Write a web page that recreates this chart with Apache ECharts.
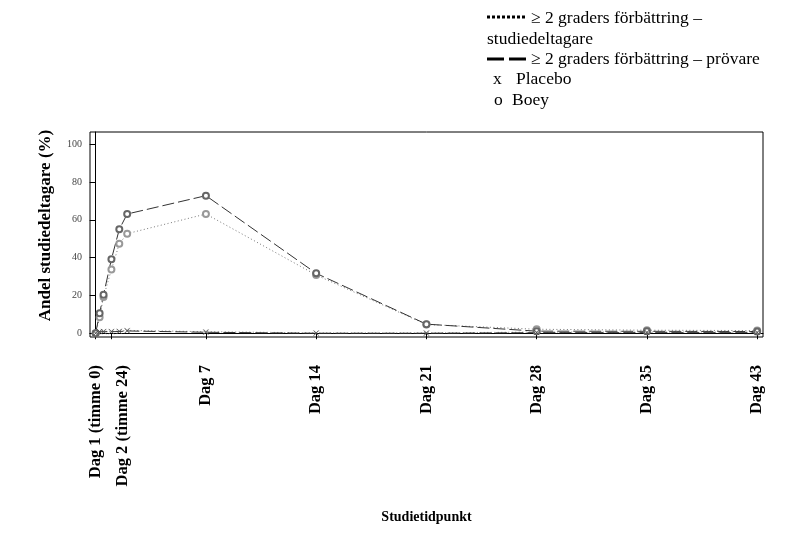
<!DOCTYPE html>
<html>
<head>
    <meta charset="utf-8">
    <title>Andel studiedeltagare</title>
    <script src="https://cdn.jsdelivr.net/npm/echarts@6/dist/echarts.min.js"></script>
    <style>
        html, body, #main {
            width: 100%;
            height: 100%;
            margin: 0;
            background: #fff;
        }
    </style>
</head>
<body>
    <div id="main"></div>
    <script type="text/javascript">
        // dagar sedan start (dag 1 timme 0 = 0)
        var days = [0, 0.25, 0.5, 1, 1.5, 2, 7, 14, 21, 28, 35, 42];
        var tickDays = [0, 1, 7, 14, 21, 28, 35, 42];
        var tickLabels = ['Dag 1 (timme 0)', 'Dag 2 (timme 24)', 'Dag 7', 'Dag 14', 'Dag 21', 'Dag 28', 'Dag 35', 'Dag 43'];
        var yTicks = [0, 20, 40, 60, 80, 100];

        var boeyStudie = [0, 8.4, 19.2, 33.7, 47.3, 52.7, 63.1, 30.8, 4.6, 2.1, 1.6, 1.4];
        var boeyProv = [0, 10.6, 20.3, 39.2, 55.0, 63.1, 72.8, 31.7, 4.8, 1.1, 1.0, 0.9];
        var placeboStudie = [0, 0.9, 1.0, 1.0, 1.1, 1.5, 0.8, 0.2, 0.2, 0.6, 0.6, 0.6];
        var placeboProv = [0, 0.8, 0.8, 0.8, 0.9, 1.2, 0.5, 0, 0, 0.3, 0.3, 0.3];

        var serif = '"Liberation Serif", "DejaVu Serif", serif';
        var xMark = 'path://M0,0L10,10M0,10L10,0';
        var xMin = -0.36, xMax = 42.37;

        function pairs(vals) {
            return vals.map(function (v, i) { return [days[i], v]; });
        }
        function tickLabel(v) {
            for (var i = 0; i < tickDays.length; i++) {
                if (Math.abs(tickDays[i] - v) < 1e-6) return tickLabels[i];
            }
            return '';
        }
        // Dag 2 ligger så nära Dag 1 att etiketten får en egen (något förskjuten) axel
        var mainTicks = tickDays.filter(function (d) { return d !== 1; });
        var nearTicks = [1];
        var nearShift = 0.7;

        function makeXAxis(ticks, isMain) {
            var shift = isMain ? 0 : nearShift;
            return {
                type: 'value',
                position: 'bottom',
                min: xMin - shift, max: xMax - shift,
                name: isMain ? 'Studietidpunkt' : '',
                nameLocation: 'middle',
                nameGap: 173,
                nameTextStyle: { fontFamily: serif, fontWeight: 'bold', fontSize: 14, color: '#000' },
                axisLine: { show: isMain, lineStyle: { color: '#000', width: 1 } },
                splitLine: { show: false },
                axisTick: { show: isMain, customValues: tickDays, length: 6, lineStyle: { color: '#000' } },
                axisLabel: {
                    customValues: ticks,
                    rotate: 90,
                    margin: 28,
                    hideOverlap: false,
                    showMinLabel: true,
                    showMaxLabel: true,
                    fontFamily: serif, fontWeight: 'bold', fontSize: 16.5, color: '#000',
                    formatter: tickLabel
                }
            };
        }

        var myChart = echarts.init(document.getElementById('main'));
        var option = {
            animation: false,
            backgroundColor: '#fff',
            grid: {
                left: 90, right: 47, top: 132, bottom: 200,
                show: true, borderColor: '#000', borderWidth: 1
            },
            xAxis: [makeXAxis(mainTicks, true), makeXAxis(nearTicks, false)],
            yAxis: {
                type: 'value',
                min: -2, max: 106.5,
                name: 'Andel studiedeltagare (%)',
                nameLocation: 'middle',
                nameGap: 36,
                nameTextStyle: { fontFamily: serif, fontWeight: 'bold', fontSize: 17, color: '#000', padding: [0, 0, 0, 18] },
                axisLine: { show: true, lineStyle: { color: '#000', width: 1 } },
                splitLine: { show: false },
                axisTick: { show: true, customValues: yTicks, length: 6, lineStyle: { color: '#000' } },
                axisLabel: { customValues: yTicks, margin: 8, fontFamily: serif, fontSize: 10, color: '#444' }
            },
            series: [{
                name: 'Boey studiedeltagare',
                type: 'line',
                data: pairs(boeyStudie),
                symbol: 'emptyCircle', symbolSize: 6,
                itemStyle: { color: '#999', borderWidth: 0.7 },
                lineStyle: { color: '#777', width: 1, type: [1, 2.5] }
            }, {
                name: 'Boey prövare',
                type: 'line',
                data: pairs(boeyProv),
                symbol: 'emptyCircle', symbolSize: 6,
                itemStyle: { color: '#666', borderWidth: 0.7 },
                lineStyle: { color: '#333', width: 1, type: [12, 4] }
            }, {
                name: 'Placebo studiedeltagare',
                type: 'line',
                data: pairs(placeboStudie),
                symbol: xMark, symbolSize: 5,
                itemStyle: { color: 'none', borderColor: '#777', borderWidth: 0.7 },
                lineStyle: { color: '#777', width: 1, type: [1, 2.5] }
            }, {
                name: 'Placebo prövare',
                type: 'line',
                data: pairs(placeboProv),
                symbol: xMark, symbolSize: 5,
                itemStyle: { color: 'none', borderColor: '#444', borderWidth: 0.7 },
                lineStyle: { color: '#333', width: 1, type: [12, 4] }
            }],
            graphic: [
                { type: 'line', shape: { x1: 487, y1: 17, x2: 527, y2: 17 },
                  style: { stroke: '#000', lineWidth: 3, lineDash: [3, 2] } },
                { type: 'text', x: 531, y: 18,
                  style: { text: '≥ 2 graders förbättring –', font: '17.5px ' + serif, fill: '#000', verticalAlign: 'middle' } },
                { type: 'text', x: 487, y: 39,
                  style: { text: 'studiedeltagare', font: '17.5px ' + serif, fill: '#000', verticalAlign: 'middle' } },
                { type: 'line', shape: { x1: 487, y1: 59, x2: 527, y2: 59 },
                  style: { stroke: '#000', lineWidth: 3, lineDash: [17, 5] } },
                { type: 'text', x: 531, y: 59,
                  style: { text: '≥ 2 graders förbättring – prövare', font: '17.5px ' + serif, fill: '#000', verticalAlign: 'middle' } },
                { type: 'text', x: 493, y: 79,
                  style: { text: 'x', font: '17.5px ' + serif, fill: '#000', verticalAlign: 'middle' } },
                { type: 'text', x: 516, y: 79,
                  style: { text: 'Placebo', font: '17.5px ' + serif, fill: '#000', verticalAlign: 'middle' } },
                { type: 'text', x: 494, y: 100,
                  style: { text: 'o', font: '17.5px ' + serif, fill: '#000', verticalAlign: 'middle' } },
                { type: 'text', x: 512, y: 100,
                  style: { text: 'Boey', font: '17.5px ' + serif, fill: '#000', verticalAlign: 'middle' } }
            ]
        };
        if (option && typeof option === "object") {
            myChart.setOption(option, true);
        }
    </script>
</body>
</html>
